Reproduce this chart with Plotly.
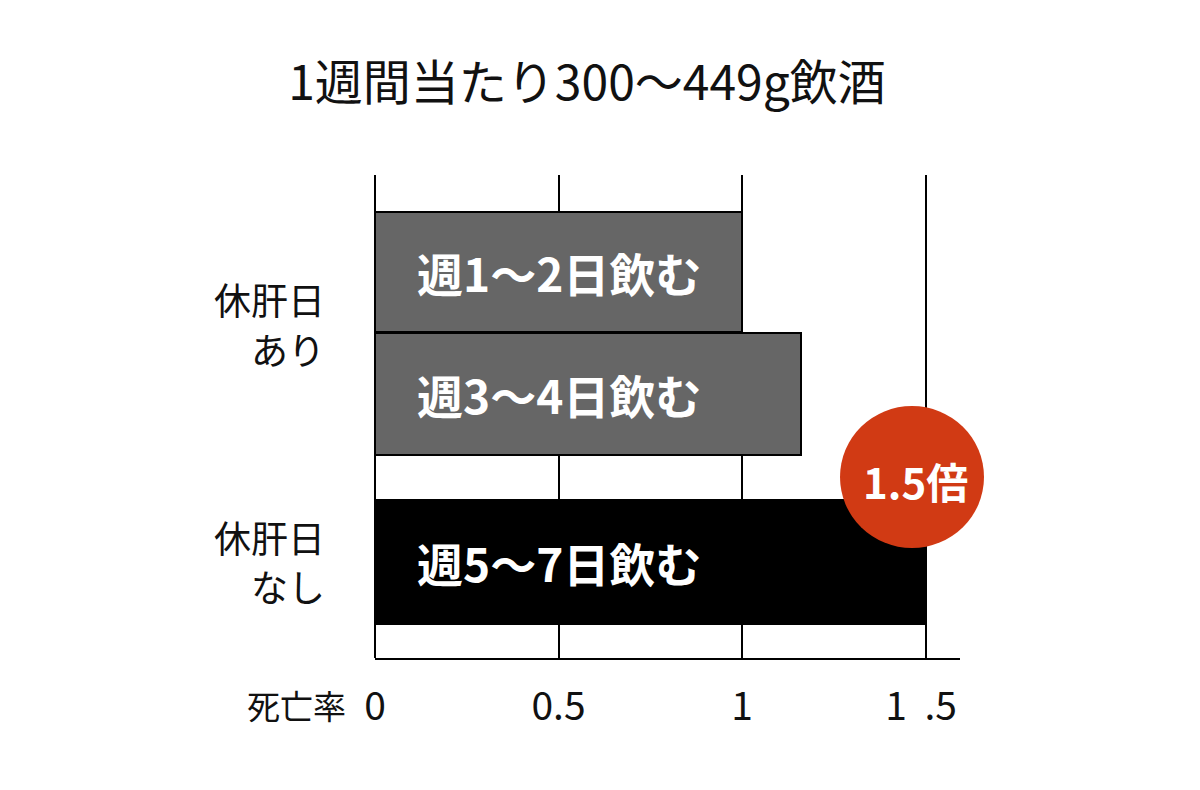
import plotly.graph_objects as go

# ---- data ----
title_text = "1週間当たり300〜449g飲酒"
bar_labels = ["週1〜2日飲む", "週3〜4日飲む", "週5〜7日飲む"]
bar_values = [1.0, 1.16, 1.5]
group_labels = [["休肝日", "あり"], ["休肝日", "なし"]]
tick_values = [0, 0.5, 1, 1.5]
tick_labels = ["0", "0.5", "1", "1\u00a0\u00a0.5\u00a0"]
axis_label = "死亡率"
badge_text = "1.5倍"

# ---- layout constants ----
FONT = "Noto Sans CJK JP"
OFF = 8  # page offset of the figure inside the browser
bar_pos = [0.798, 1.802, 3.185]
bar_width = [0.99, 1.0, 1.02]
bar_colors = ["#666666", "#666666", "#000000"]
group_line_px = [[299, 349], [537, 586]]


def py(pix):
    return (658 - pix) / 483


fig = go.Figure()
fig.add_trace(go.Bar(
    x=bar_values, y=bar_pos, width=bar_width, orientation="h",
    marker=dict(color=bar_colors, line=dict(color="#000000", width=2)),
    hoverinfo="skip", showlegend=False,
))

annotations = []
for lab, yp in zip(bar_labels, bar_pos):
    annotations.append(dict(
        x=0, y=yp, xref="x", yref="y", text=lab, showarrow=False,
        xanchor="left", yanchor="middle", xshift=40,
        font=dict(family=FONT, size=46, color="white", weight="bold"),
    ))
for lines, pys in zip(group_labels, group_line_px):
    for line, pix in zip(lines, pys):
        annotations.append(dict(
            x=-0.082, y=py(pix), xref="paper", yref="paper", text=line,
            showarrow=False, xanchor="right", yanchor="middle",
            font=dict(family=FONT, size=37, color="#111111"),
        ))
annotations.append(dict(
    x=(296 - 375) / 585, y=py(705), xref="paper", yref="paper",
    text=axis_label, showarrow=False, xanchor="center", yanchor="middle",
    font=dict(family=FONT, size=33, color="#111111"),
))
annotations.append(dict(
    x=(915 - 375) / 585, y=py(480), xref="paper", yref="paper",
    text=badge_text, showarrow=False, xanchor="center", yanchor="middle",
    font=dict(family=FONT, size=42, color="white", weight="bold"),
))

fig.add_shape(
    type="circle", xref="paper", yref="paper",
    xsizemode="pixel", ysizemode="pixel",
    xanchor=(912 - 375) / 585, yanchor=py(477),
    x0=-72, x1=72, y0=-71, y1=71,
    fillcolor="#d13a14", line=dict(width=0), layer="above",
)

fig.update_layout(
    width=1200, height=790,
    margin=dict(l=375 - OFF, r=240 + OFF, t=175 - OFF, b=132 + OFF),
    paper_bgcolor="white", plot_bgcolor="white",
    title=dict(text=title_text, x=(587 - OFF) / 1200, xanchor="center",
               y=1 - (83 - OFF) / 790, yanchor="middle",
               font=dict(family=FONT, size=48, color="#111111")),
    annotations=annotations,
    bargap=0,
    xaxis=dict(
        range=[0, 1.594], tickvals=tick_values, ticktext=tick_labels,
        showgrid=True, gridcolor="#000000", gridwidth=2,
        zeroline=True, zerolinecolor="#000000", zerolinewidth=2,
        showline=True, linecolor="#000000", linewidth=2,
        ticks="", ticklabelstandoff=13,
        tickfont=dict(family=FONT, size=39, color="#111111"),
        fixedrange=True,
    ),
    yaxis=dict(
        range=[3.975, 0], showgrid=False, zeroline=False,
        showticklabels=False, showline=False, fixedrange=True,
    ),
    font=dict(family=FONT),
)

fig.write_html("out.html")
